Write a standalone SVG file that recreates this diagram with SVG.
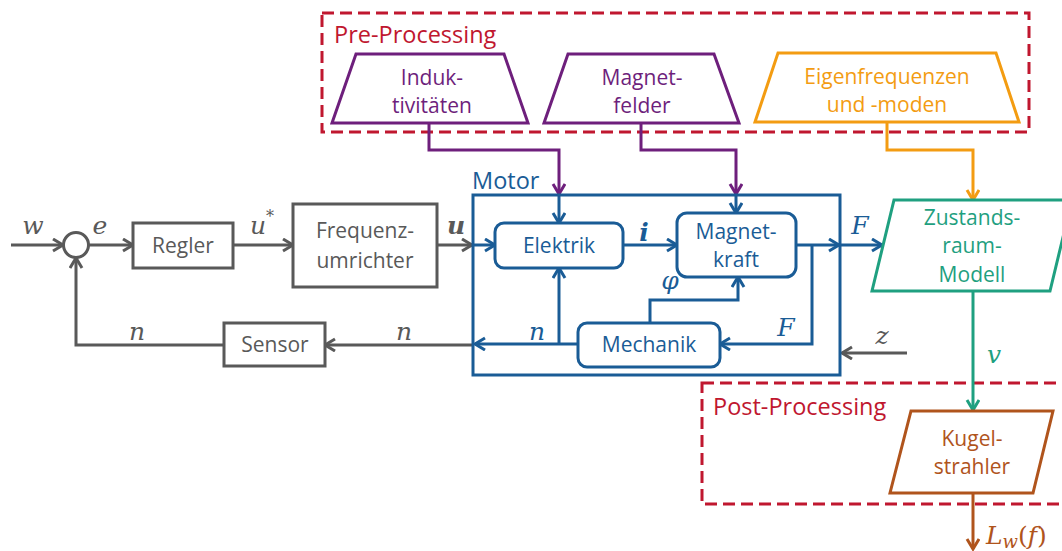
<svg xmlns="http://www.w3.org/2000/svg" width="1062" height="551" viewBox="0 0 1062 551">
  <style>
    .lbl { font-family: "Open Sans", "Noto Sans", sans-serif; font-size: 21px; text-anchor: middle; }
    .head { font-family: "Open Sans", "Noto Sans", sans-serif; font-size: 23.5px; }
    .math { font-family: "DejaVu Serif", "Liberation Serif", serif; font-style: italic; font-size: 25px; text-anchor: middle; }
    .gray { fill: #595959; } .blue { fill: #1A5C96; } .purple { fill: #6E1F7C; }
    .orange { fill: #F39C12; } .green { fill: #1FA080; } .brown { fill: #B0541C; } .red { fill: #C0172F; }
    .box { fill: #FFFFFF; stroke-width: 3; }
    .wire { fill: none; stroke-width: 3; stroke-linejoin: miter; }
    .dash { fill: none; stroke: #C0172F; stroke-width: 3; stroke-dasharray: 12 6; }
  </style>
  <defs>
    <marker id="ag" markerUnits="userSpaceOnUse" markerWidth="16" markerHeight="16" refX="12" refY="7" orient="auto">
      <path d="M2,1 L12,7 L2,13" fill="none" stroke="#595959" stroke-width="3"/>
    </marker>
    <marker id="ab" markerUnits="userSpaceOnUse" markerWidth="16" markerHeight="16" refX="12" refY="7" orient="auto">
      <path d="M2,1 L12,7 L2,13" fill="none" stroke="#1A5C96" stroke-width="3"/>
    </marker>
    <marker id="ap" markerUnits="userSpaceOnUse" markerWidth="16" markerHeight="16" refX="12" refY="7" orient="auto">
      <path d="M2,1 L12,7 L2,13" fill="none" stroke="#6E1F7C" stroke-width="3"/>
    </marker>
    <marker id="ao" markerUnits="userSpaceOnUse" markerWidth="16" markerHeight="16" refX="12" refY="7" orient="auto">
      <path d="M2,1 L12,7 L2,13" fill="none" stroke="#F39C12" stroke-width="3"/>
    </marker>
    <marker id="agr" markerUnits="userSpaceOnUse" markerWidth="16" markerHeight="16" refX="12" refY="7" orient="auto">
      <path d="M2,1 L12,7 L2,13" fill="none" stroke="#1FA080" stroke-width="3"/>
    </marker>
    <marker id="abr" markerUnits="userSpaceOnUse" markerWidth="16" markerHeight="16" refX="12" refY="7" orient="auto">
      <path d="M2,1 L12,7 L2,13" fill="none" stroke="#B0541C" stroke-width="3"/>
    </marker>
  </defs>

  <rect width="1062" height="551" fill="#FFFFFF"/>

  <!-- processing frames -->
  <g id="pre-processing">
    <rect class="dash" x="322" y="13" width="707" height="119"/>
    <text class="head red" x="334" y="43">Pre-Processing</text>
  </g>
  <g id="post-processing">
    <rect class="dash" x="702" y="383" width="370" height="121"/>
    <text class="head red" x="713" y="415">Post-Processing</text>
  </g>

  <!-- connectors -->
  <g id="connectors">
    <!-- control loop (gray) -->
    <g stroke="#595959" class="wire">
      <line x1="11" y1="245" x2="63" y2="245" marker-end="url(#ag)"/>
      <line x1="88.5" y1="245" x2="133" y2="245" marker-end="url(#ag)"/>
      <line x1="233" y1="245" x2="293" y2="245" marker-end="url(#ag)"/>
      <line x1="437" y1="245" x2="472" y2="245" marker-end="url(#ag)"/>
      <line x1="472" y1="345" x2="325" y2="345" marker-end="url(#ag)"/>
      <polyline points="224,345 76,345 76,258" marker-end="url(#ag)"/>
      <line x1="907" y1="353" x2="842" y2="353" marker-end="url(#ag)"/>
    </g>
    <!-- motor internals (blue) -->
    <g stroke="#1A5C96" class="wire">
      <line x1="474" y1="245" x2="495" y2="245" marker-end="url(#ab)"/>
      <line x1="559" y1="196" x2="559" y2="223" marker-end="url(#ab)"/>
      <line x1="736" y1="196" x2="736" y2="213" marker-end="url(#ab)"/>
      <line x1="623" y1="245" x2="677" y2="245" marker-end="url(#ab)"/>
      <line x1="796" y1="245" x2="839" y2="245" marker-end="url(#ab)"/>
      <line x1="839" y1="245" x2="882" y2="245" marker-end="url(#ab)"/>
      <polyline points="812,245 812,344 720,344" marker-end="url(#ab)"/>
      <polyline points="650,323 650,300 738,300 738,277" marker-end="url(#ab)"/>
      <line x1="578" y1="344" x2="475" y2="344" marker-end="url(#ab)"/>
      <line x1="559" y1="344" x2="559" y2="268" marker-end="url(#ab)"/>
    </g>
    <!-- pre-processing inputs -->
    <g stroke="#6E1F7C" class="wire">
      <polyline points="429,123 429,150 559,150 559,194" marker-end="url(#ap)"/>
      <polyline points="641,123 641,150 736,150 736,194" marker-end="url(#ap)"/>
    </g>
    <polyline stroke="#F39C12" class="wire" points="887,122 887,150 973,150 973,200" marker-end="url(#ao)"/>
    <line stroke="#1FA080" class="wire" x1="973" y1="291" x2="973" y2="410" marker-end="url(#agr)"/>
    <line stroke="#B0541C" class="wire" x1="973" y1="493" x2="973" y2="549" marker-end="url(#abr)"/>
  </g>

  <!-- control loop nodes -->
  <g id="summing-point">
    <circle cx="76" cy="245" r="12.5" fill="#FFFFFF" stroke="#595959" stroke-width="3"/>
  </g>
  <g id="regler">
    <rect class="box" x="133" y="223" width="100" height="45" stroke="#595959"/>
    <text class="lbl gray" x="183" y="253">Regler</text>
  </g>
  <g id="frequenzumrichter">
    <rect class="box" x="293" y="204" width="144" height="83" stroke="#595959"/>
    <text class="lbl gray" x="365" y="238">Frequenz-</text>
    <text class="lbl gray" x="365" y="268">umrichter</text>
  </g>
  <g id="sensor">
    <rect class="box" x="224" y="323" width="101" height="43" stroke="#595959"/>
    <text class="lbl gray" x="275" y="352">Sensor</text>
  </g>

  <!-- motor -->
  <g id="motor">
    <rect x="473" y="195" width="367" height="180" fill="none" stroke="#1A5C96" stroke-width="3"/>
    <text class="head blue" x="472" y="189">Motor</text>
  </g>
  <g id="elektrik">
    <rect class="box" x="495" y="223" width="128" height="45" rx="9" stroke="#1A5C96" stroke-width="2.5"/>
    <text class="lbl blue" x="559" y="253">Elektrik</text>
  </g>
  <g id="magnetkraft">
    <rect class="box" x="677" y="213" width="119" height="64" rx="10" stroke="#1A5C96" stroke-width="2.5"/>
    <text class="lbl blue" x="736" y="239">Magnet-</text>
    <text class="lbl blue" x="736" y="267">kraft</text>
  </g>
  <g id="mechanik">
    <rect class="box" x="578" y="323" width="142" height="44" rx="9" stroke="#1A5C96" stroke-width="2.5"/>
    <text class="lbl blue" x="649" y="352">Mechanik</text>
  </g>

  <!-- pre-processing data -->
  <g id="induktivitaeten">
    <polygon class="box" points="356,54 504,54 528,123 332,123" stroke="#6E1F7C"/>
    <text class="lbl purple" x="432" y="85">Induk-</text>
    <text class="lbl purple" x="432" y="113">tivitäten</text>
  </g>
  <g id="magnetfelder">
    <polygon class="box" points="568,54 714,54 739,123 544,123" stroke="#6E1F7C"/>
    <text class="lbl purple" x="642" y="85">Magnet-</text>
    <text class="lbl purple" x="642" y="113">felder</text>
  </g>
  <g id="eigenfrequenzen">
    <polygon class="box" points="778,53 996,53 1019,122 755,122" stroke="#F39C12"/>
    <text class="lbl orange" x="887" y="84">Eigenfrequenzen</text>
    <text class="lbl orange" x="887" y="112">und -moden</text>
  </g>

  <!-- state-space model and radiator -->
  <g id="zustandsraummodell">
    <polygon class="box" points="894,200 1072,200 1050,291 872,291" stroke="#1FA080"/>
    <text class="lbl green" x="972" y="225">Zustands-</text>
    <text class="lbl green" x="972" y="253">raum-</text>
    <text class="lbl green" x="972" y="282">Modell</text>
  </g>
  <g id="kugelstrahler">
    <polygon class="box" points="911,411 1053,411 1033,493 890,493" stroke="#B0541C"/>
    <text class="lbl brown" x="972" y="446">Kugel-</text>
    <text class="lbl brown" x="972" y="474">strahler</text>
  </g>

  <!-- signal labels -->
  <g id="signal-labels">
    <text class="math gray" x="33" y="234">w</text>
    <text class="math gray" x="100" y="234">e</text>
    <text class="math gray" x="262" y="234">u<tspan font-size="16" dy="-12" font-style="normal">*</tspan></text>
    <text class="math gray" x="456" y="234" font-weight="bold">u</text>
    <text class="math gray" x="137" y="340">n</text>
    <text class="math gray" x="404" y="340">n</text>
    <text class="math blue" x="644" y="241" font-weight="bold">i</text>
    <text class="math blue" x="670" y="289">φ</text>
    <text class="math blue" x="537" y="340">n</text>
    <text class="math blue" x="786" y="336">F</text>
    <text class="math blue" x="860" y="234">F</text>
    <text class="math gray" x="882" y="344">z</text>
    <text class="math green" x="994" y="363">v</text>
    <text class="math brown" x="986" y="544" style="text-anchor:start">L<tspan font-size="18" dy="4">w</tspan><tspan dy="-4" font-style="normal">(</tspan>f<tspan font-style="normal">)</tspan></text>
  </g>
</svg>
